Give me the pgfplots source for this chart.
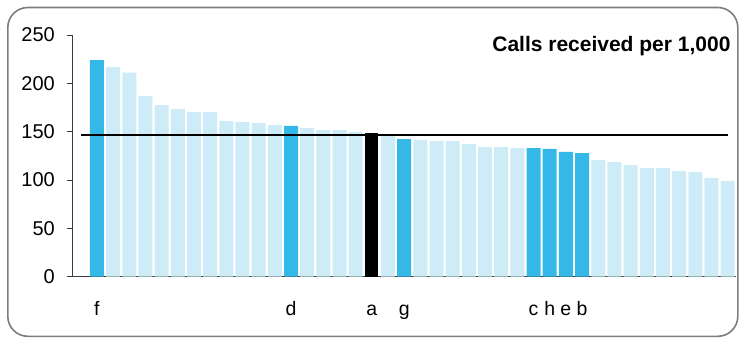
\documentclass[border=0pt]{standalone}
\usepackage{fontspec}
\setmainfont{Liberation Sans}
\usepackage{pgfplots}
\pgfplotsset{compat=1.18}
\definecolor{darkbar}{RGB}{52,184,232}
\definecolor{lightbar}{RGB}{205,236,248}
\definecolor{framegray}{RGB}{125,125,125}
\definecolor{axisgray}{RGB}{60,60,60}
\begin{document}
\begin{tikzpicture}
\useasboundingbox (0,0) rectangle (739pt,-338pt);
\draw[framegray, line width=1.6pt, rounded corners=20pt] (7.8pt,-7.5pt) rectangle (737.8pt,-336.3pt);
\begin{axis}[
  at={(72.7pt,-276.7pt)}, anchor=south west,
  scale only axis, width=663pt, height=241.7pt,
  xmin=-1.5, xmax=39.5, ymin=0, ymax=250,
  axis x line*=bottom, axis y line*=left,
  axis line style={axisgray, line width=1pt},
  ytick={0,50,...,250},
  xtick={0,12,17,19,27,28,29,30},
  xticklabels={f,d,a,g,c,h,e,b},
  x tick style={draw=none},
  y tick style={axisgray, line width=1pt},
  tick align=outside, major tick length=6pt,
  /pgf/number format/assume math mode=true,
  yticklabel style={font=\fontsize{20}{23}\selectfont, anchor=east, inner sep=0pt, xshift=-11.7pt},
  xticklabel style={font=\fontsize{19.5}{23}\selectfont, anchor=base, yshift=-32.6pt},
  clip=false,
]
\addplot[ybar, bar width=14pt, bar shift=0pt, fill=lightbar, draw=none] coordinates {
(1,216.9) (2,211.0) (3,186.9) (4,177.6) (5,173.4) (6,170.3) (7,170.3) (8,161.0) (9,160.0) (10,159.0) (11,156.9)
(13,153.8) (14,151.7) (15,151.7) (16,149.7) (18,145.5)
(20,141.4) (21,140.3) (22,140.3) (23,137.2) (24,134.1) (25,134.1) (26,133.1)
(31,120.7) (32,118.6) (33,115.5) (34,112.4) (35,112.4) (36,109.3) (37,108.3) (38,102.1) (39,99.0)
};
\addplot[ybar, bar width=14pt, bar shift=0pt, fill=darkbar, draw=none] coordinates {
(0,224.1) (12,155.9) (19,142.4) (27,133.1) (28,132.1) (29,129.0) (30,127.9)
};
\addplot[ybar, bar width=13pt, bar shift=0pt, fill=black, draw=none] coordinates {
(17,148.6)
};
\addplot[black, line width=2.6pt] coordinates {(-1,146.6) (39.05,146.6)};
\end{axis}
\node[anchor=base east, font=\bfseries\fontsize{21}{25}\selectfont, inner sep=0pt] at (730.7pt,-51.7pt) {Calls received per 1,000};
\end{tikzpicture}
\end{document}
